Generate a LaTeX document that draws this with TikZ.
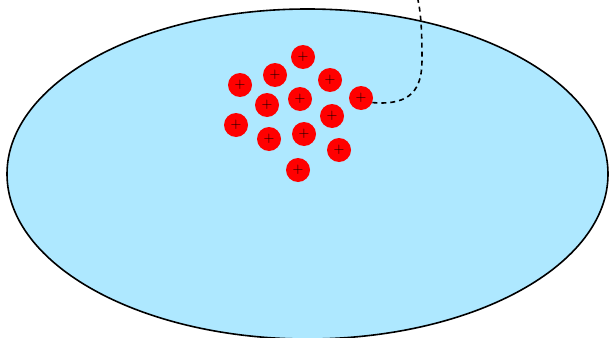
\documentclass[tikz,border=0pt]{standalone}
\usepackage{tikz}
\usepackage{xcolor}
\usetikzlibrary{arrows.meta,positioning}
\definecolor{drop}     {HTML}{AEE8FF}
\definecolor{ink}      {HTML}{000000}
\definecolor{ion}      {HTML}{FF0000}
\tikzset{
  charge/.style={circle,fill=ion,minimum size=24pt,inner sep=0pt,
                 font=\fontsize{15}{15}\selectfont,text=ink}
}

\begin{document}
\begin{tikzpicture}[x=1pt,y=-1pt]
      \useasboundingbox (0,0) rectangle (609,337);
      % the droplet
      \draw[ink,line width=1.6pt,fill=drop] (307.5,174) ellipse [x radius=300.5pt,y radius=165pt];
      % the charges
      \node[charge] (c1)  at (303,57)  {+};
      \node[charge] (c2)  at (275,75)  {+};
      \node[charge] (c3)  at (240,85)  {+};
      \node[charge] (c4)  at (330,80)  {+};
      \node[charge] (c5)  at (361,98)  {+};
      \node[charge] (c6)  at (267,105) {+};
      \node[charge] (c7)  at (300,99)  {+};
      \node[charge] (c8)  at (332,116) {+};
      \node[charge] (c9)  at (236,125) {+};
      \node[charge] (c10) at (269,139) {+};
      \node[charge] (c11) at (304,134) {+};
      \node[charge] (c12) at (339,150) {+};
      \node[charge] (c13) at (298,170) {+};
      % path leaving the droplet
      \coordinate (exit) at (418,0);
      \draw[ink,line width=1.6pt,dash pattern=on 5pt off 4pt]
        (c5.-22) .. controls (412,106) and (422,88) .. (422,60)
                 .. controls (422,32) and (421,14) .. (exit);
    \end{tikzpicture}
\end{document}
